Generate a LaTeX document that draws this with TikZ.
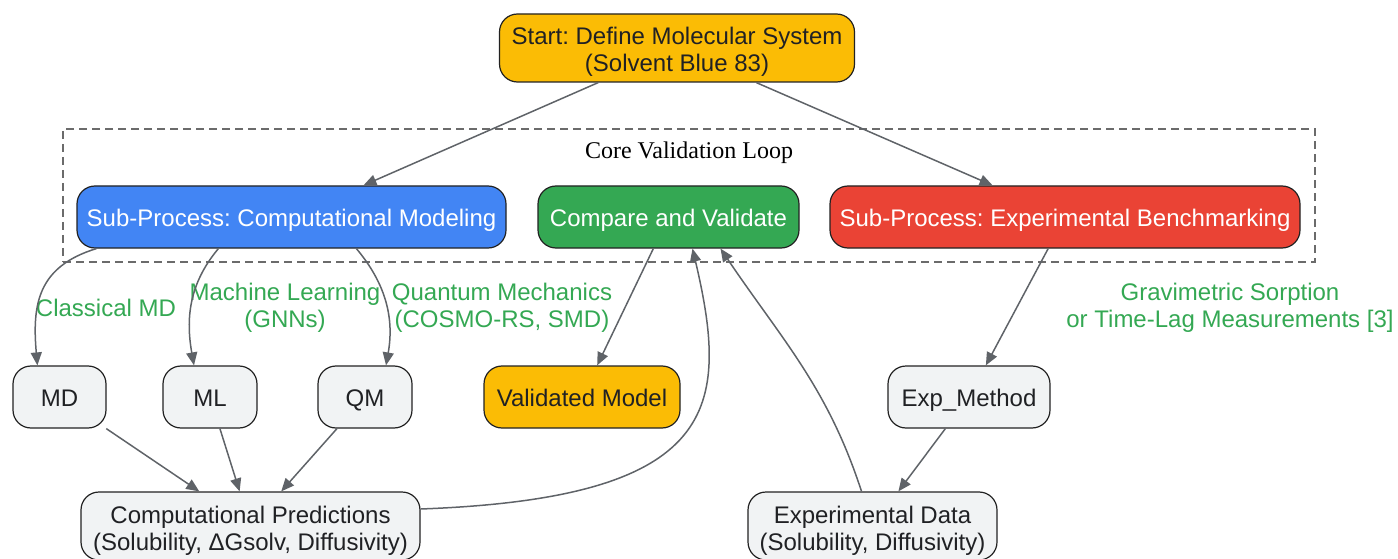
\documentclass[tikz,border=0pt]{standalone}
\usepackage{fontspec}
\setmainfont{Liberation Sans}
\newfontfamily\loopfont{Liberation Serif}
\usetikzlibrary{arrows.meta, positioning}
\frenchspacing

\definecolor{gyellow}{HTML}{FBBC05}
\definecolor{gblue}{HTML}{4285F4}
\definecolor{ggreen}{HTML}{34A853}
\definecolor{gred}{HTML}{EA4335}
\definecolor{gbox}{HTML}{F1F3F4}
\definecolor{boxline}{HTML}{222222}
\definecolor{boxtext}{HTML}{202124}
\definecolor{gedge}{HTML}{5F6368}
\definecolor{gcluster}{HTML}{6B6B6B}

\begin{document}
\begin{tikzpicture}[x=1pt, y=1pt, on grid, auto,
        font=\fontsize{24}{27}\selectfont,
        box/.style={draw=boxline, line width=1.2pt, rounded corners=18pt,
            minimum height=62pt, align=center, text=boxtext, fill=gbox,
            text height=19pt, text depth=0pt},
        twoline/.style={minimum height=68pt, text height=48pt, text depth=0pt},
        lbl/.style={text=ggreen, align=center},
        conn/.style={draw=gedge, line width=1.5pt},
        >={Triangle[length=13pt, width=11pt]},
        every edge/.style={conn}]
            \useasboundingbox (0,0) rectangle (1398,558);
            % cluster
            \node[draw=gcluster, line width=1.2pt, dash pattern=on 8pt off 5pt,
                minimum width=1252pt, minimum height=133pt] (core_loop) at (689,362.5) {};
            \node[font=\loopfont\fontsize{24}{27}\selectfont] (core_label) at (689,405) {Core Validation Loop};
            % nodes
            \node[box, twoline, fill=gyellow, minimum width=355pt] (start) at (677,510)
                {Start: Define Molecular System\\(Solvent Blue 83)};
            \node[box, fill=gblue, text=white, minimum width=429pt] (sub_comp) at (291.5,341)
                {Sub-Process: Computational Modeling};
            \node[box, fill=ggreen, text=white, minimum width=261pt] (compare) at (668.5,341)
                {Compare and Validate};
            \node[box, fill=gred, text=white, minimum width=470pt] (sub_exp) at (1065,341)
                {Sub-Process: Experimental Benchmarking};
            \node[box, minimum width=93pt] (md) at (59.5,161) {MD};
            \node[box, minimum width=94pt] (ml) [right=150.5pt of md] {ML};
            \node[box, minimum width=94pt] (qm) [right=155pt of ml] {QM};
            \node[box, fill=gyellow, minimum width=196pt] (validated) [right=217pt of qm] {Validated Model};
            \node[box, minimum width=162pt] (exp_method) at (969,161) {Exp\_Method};
            \node[box, twoline, minimum width=339pt] (comp_pred) at (250.5,32)
                {Computational Predictions\\(Solubility, ΔGsolv, Diffusivity)};
            \node[box, twoline, minimum width=249pt] (exp_data) at (872.5,32)
                {Experimental Data\\(Solubility, Diffusivity)};
            % edge labels
            \node[lbl] (lbl_md) at (106,250) {Classical MD};
            \node[lbl] (lbl_ml) at (285,250) {Machine Learning\\(GNNs)};
            \node[lbl] (lbl_qm) at (502,250) {Quantum Mechanics\\(COSMO-RS, SMD)};
            \node[lbl] (lbl_exp) at (1230,250) {Gravimetric Sorption\\or Time-Lag Measurements [3]};
            % edges
            \path[->]
                (start) edge (sub_comp)
                edge (sub_exp);
            \path[->]
                ([xshift=20pt]sub_comp.south west) edge [out=197, in=95, looseness=1.2] ([xshift=25pt]md.north west);
            \path[->]
                ([xshift=142pt]sub_comp.south west) edge [out=230, in=100] ([xshift=-16pt]ml.north);
            \path[->]
                ([xshift=280pt]sub_comp.south west) edge [out=-50, in=80] ([xshift=21pt]qm.north);
            \path[->]
                (compare) edge (validated);
            \path[->]
                (sub_exp) edge (exp_method);
            \path[->]
                (md) edge (comp_pred)
                (ml) edge (comp_pred)
                (qm) edge (comp_pred);
            \path[->]
                (exp_method) edge (exp_data);
            \draw[->, conn] ([yshift=17pt]comp_pred.east) .. controls (720,60) and (730,150) .. ([xshift=24pt]compare.south);
            \path[->]
                ([xshift=-11pt]exp_data.north) edge [out=108, in=-56] ([xshift=52pt]compare.south);
\end{tikzpicture}
\end{document}
